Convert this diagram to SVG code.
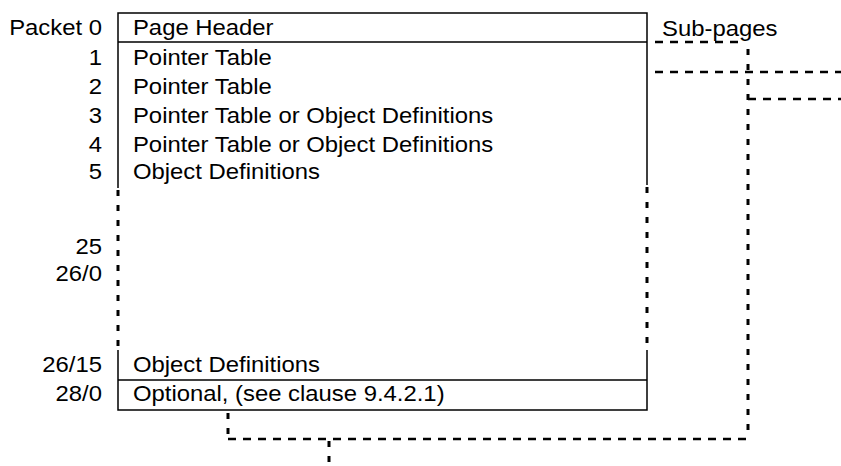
<svg xmlns="http://www.w3.org/2000/svg" width="841" height="466" viewBox="0 0 841 466">
<style>
text{font-family:"Liberation Sans",Arial,sans-serif;font-size:21.5px;fill:#000}
.r{text-anchor:end}
.s{stroke:#000;stroke-width:1.5;fill:none}
.d{stroke:#000;stroke-width:3;fill:none;stroke-dasharray:6 9}
.h{stroke:#000;stroke-width:2.5;fill:none;stroke-dasharray:8 7}
</style>
<rect width="841" height="466" fill="#fff"/>
<g id="page">
<path class="s" d="M118,188 V13 H647 V185 M118,42 H647 M118,350 V410 H647 V350 M118,380 H647"/>
<path class="d" d="M118,190 V348 M647,187 V348"/>
</g>
<g id="labels" transform="scale(1.11 1)">
<text class="r" x="91.9" y="35">Packet 0</text>
<text class="r" x="91.9" y="65">1</text>
<text class="r" x="91.9" y="94">2</text>
<text class="r" x="91.9" y="123">3</text>
<text class="r" x="91.9" y="152">4</text>
<text class="r" x="91.9" y="179">5</text>
<text class="r" x="91.9" y="254">25</text>
<text class="r" x="91.9" y="281">26/0</text>
<text class="r" x="91.9" y="372">26/15</text>
<text class="r" x="91.9" y="401">28/0</text>
</g>
<g id="rows" transform="scale(1.11 1)">
<text x="119.8" y="35">Page Header</text>
<text x="119.8" y="65">Pointer Table</text>
<text x="119.8" y="94">Pointer Table</text>
<text x="119.8" y="123">Pointer Table or Object Definitions</text>
<text x="119.8" y="152">Pointer Table or Object Definitions</text>
<text x="119.8" y="179">Object Definitions</text>
<text x="119.8" y="372">Object Definitions</text>
<text x="119.8" y="401">Optional, (see clause 9.4.2.1)</text>
</g>
<g id="subpages" transform="scale(1.11 1)">
<text x="596.4" y="36">Sub-pages</text>
</g>
<g id="connectors">
<path class="h" d="M655,42 H740 M655,72 H841 M748,99 H841 M228,439 H748"/>
<path class="d" d="M748,49 V439 M228,413 V439 M329,441 V466"/>
</g>
</svg>
